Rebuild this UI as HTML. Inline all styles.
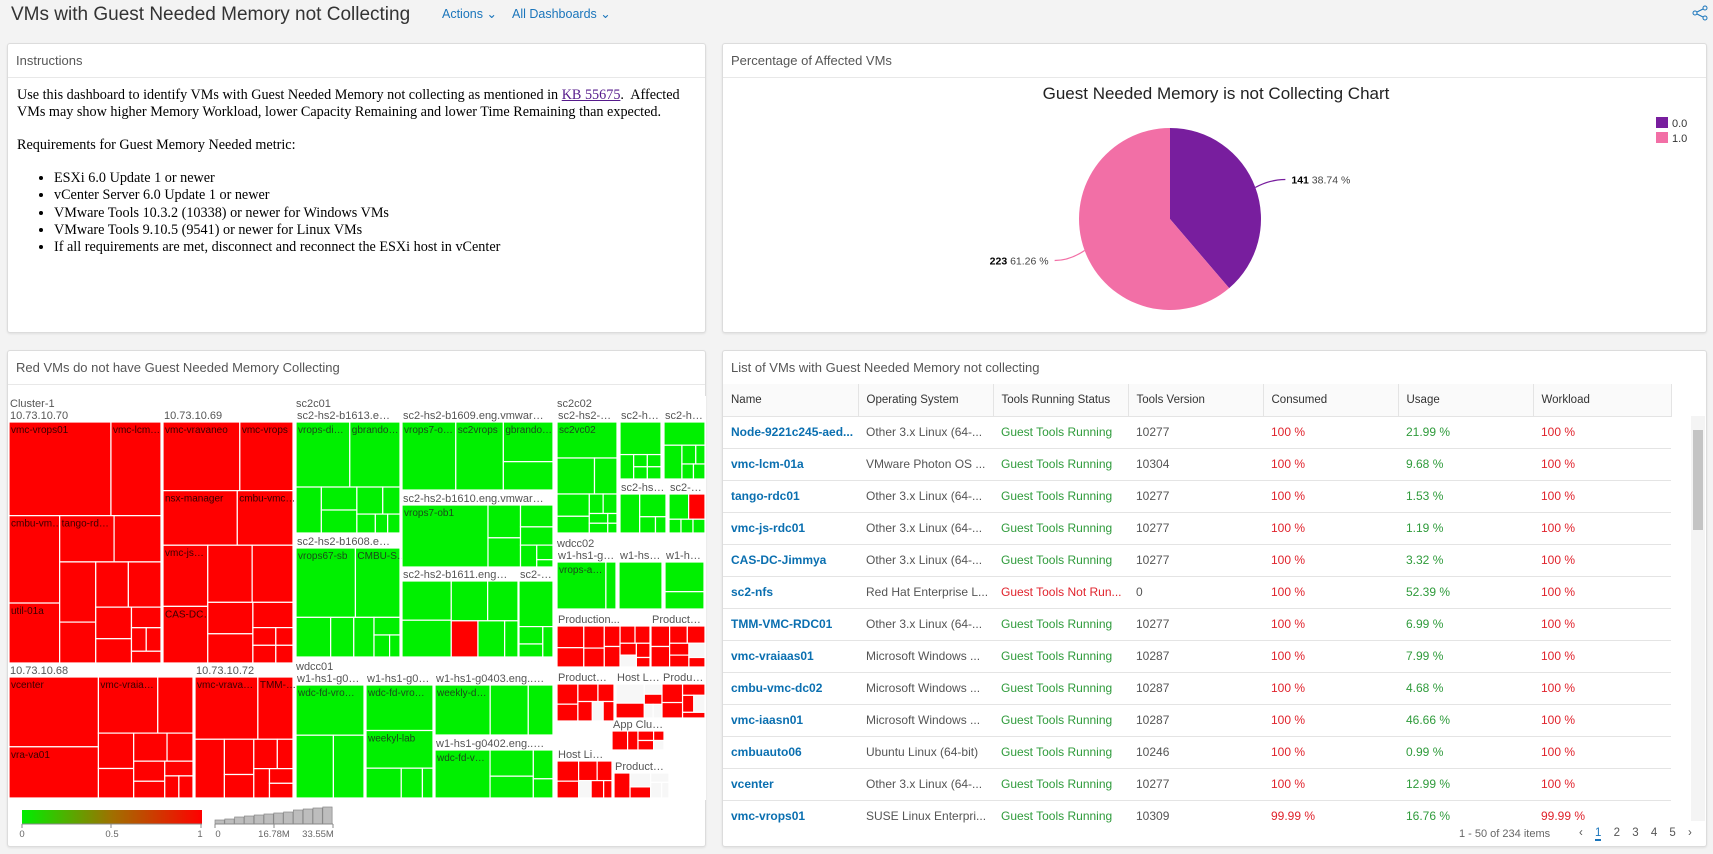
<!DOCTYPE html>
<html><head><meta charset="utf-8">
<style>
*{box-sizing:border-box;margin:0;padding:0}
body{width:1713px;height:854px;overflow:hidden;background:#f3f3f3;font-family:"Liberation Sans",sans-serif;position:relative;color:#333}
.abs{position:absolute}
.panel{position:absolute;background:#fff;border:1px solid #dcdcdc;border-radius:3px;box-shadow:0 1px 2px rgba(0,0,0,.08)}
.ph{position:absolute;left:0;right:0;top:0;height:34px;border-bottom:1px solid #e8e8e8;font-size:13px;color:#565656;padding:9px 0 0 8px}
.body-text{font-family:"Liberation Serif",serif;font-size:14.2px;color:#000;position:absolute;left:9px;top:43px;line-height:16.8px;white-space:nowrap}
.body-text ul{margin:16px 0 0 37px}
.body-text li{line-height:17.3px}
table{border-collapse:collapse;font-size:12px;table-layout:fixed}
td,th{height:32px;padding:0 0 0 8px;white-space:nowrap;overflow:hidden;text-align:left;border-bottom:1px solid #e4e4e4}
th{font-weight:normal;font-size:11.5px;color:#333;border-right:1px solid #e4e4e4;height:32px}
.nm{color:#0a6fb0;font-weight:bold}
.rd{color:#e0232c}.gr{color:#2f9b3b}.os{color:#555}
</style></head><body>
<div class="abs" style="left:11px;top:4px;font-size:19px;color:#333">VMs with Guest Needed Memory not Collecting</div>
<div class="abs" style="left:442px;top:6px;font-size:12.5px;color:#1a75bb">Actions ⌄</div>
<div class="abs" style="left:512px;top:6px;font-size:12.5px;color:#1a75bb">All Dashboards ⌄</div>
<svg class="abs" style="left:1692px;top:5px" width="16" height="16"><circle cx="3" cy="8" r="2" fill="none" stroke="#1a75bb"/><circle cx="13" cy="3" r="2" fill="none" stroke="#1a75bb"/><circle cx="13" cy="13" r="2" fill="none" stroke="#1a75bb"/><path d="M5 7L11 4M5 9L11 12" stroke="#1a75bb"/></svg>

<div class="panel" style="left:7px;top:43px;width:699px;height:290px">
 <div class="ph">Instructions</div>
 <div class="body-text">
  Use this dashboard to identify VMs with Guest Needed Memory not collecting as mentioned in <a style="color:#551a8b;text-decoration:underline">KB 55675</a>.&nbsp; Affected<br>VMs may show higher Memory Workload, lower Capacity Remaining and lower Time Remaining than expected.<br><br>Requirements for Guest Memory Needed metric:
  <ul>
   <li>ESXi 6.0 Update 1 or newer</li>
   <li>vCenter Server 6.0 Update 1 or newer</li>
   <li>VMware Tools 10.3.2 (10338) or newer for Windows VMs</li>
   <li>VMware Tools 9.10.5 (9541) or newer for Linux VMs</li>
   <li>If all requirements are met, disconnect and reconnect the ESXi host in vCenter</li>
  </ul>
 </div>
</div>

<div class="panel" style="left:722px;top:43px;width:985px;height:290px">
 <div class="ph">Percentage of Affected VMs</div>
</div>
<svg class="abs" id="pie" style="left:0;top:0" width="1713" height="340"></svg>

<div class="panel" style="left:7px;top:350px;width:699px;height:497px">
 <div class="ph">Red VMs do not have Guest Needed Memory Collecting</div>
 <div class="abs" style="left:0;right:0;top:45px;border-bottom:1px solid #eee"></div>
</div>
<svg class="abs" id="tm" style="left:0;top:0" width="710" height="854"></svg>

<div class="panel" style="left:722px;top:350px;width:985px;height:497px;overflow:hidden">
 <div class="ph" style="border:none">List of VMs with Guest Needed Memory not collecting</div>
 <div class="abs" style="left:0;top:33px;width:983px;height:443px;overflow:hidden">
 <table id="tbl" style="width:948px">
  <colgroup><col style="width:135px"><col style="width:135px"><col style="width:135px"><col style="width:135px"><col style="width:135px"><col style="width:135px"><col style="width:138px"></colgroup>
  <thead><tr style="background:#fafafa"><th>Name</th><th>Operating System</th><th>Tools Running Status</th><th>Tools Version</th><th>Consumed</th><th>Usage</th><th>Workload</th></tr></thead>
  <tbody id="tb"></tbody>
 </table>
 </div>
 <div class="abs" style="left:968px;top:65px;width:14px;height:405px;background:#f4f4f4"><div style="margin:14px 2px;height:100px;background:#c4c4c4"></div></div>
 <div class="abs" style="left:736px;top:477px;font-size:11px;color:#666">1 - 50 of 234 items</div>
 <div class="abs" style="left:856px;top:476px;font-size:11.5px;color:#555;word-spacing:9px">‹ <span style="color:#1a75bb;border-bottom:2px solid #1a75bb">1</span> 2 3 4 5 ›</div>
</div>

<script>
// ---- Pie data ----
const pieLabels=['0.0','1.0'];
const pieValues=[141,223];
const pieColors=['#781e9e','#f26fa6'];
const NS='http://www.w3.org/2000/svg';
function mk(p,tag,attrs){const e=document.createElementNS(NS,tag);for(const k in attrs)e.setAttribute(k,attrs[k]);p.appendChild(e);return e;}
(function(){
 const svg=document.getElementById('pie');
 const t=mk(svg,'text',{x:1216,y:99,'text-anchor':'middle','font-size':17,fill:'#222','font-family':'Liberation Sans'});
 t.textContent='Guest Needed Memory is not Collecting Chart';
 
 
 const cx=1170,cy=219,r=91;const tot=pieValues.reduce((a,b)=>a+b,0);
 let a0=-Math.PI/2;
 pieValues.forEach((v,i)=>{
  const a1=a0+v/tot*2*Math.PI;
  const p=mk(svg,'path',{d:`M${cx},${cy}L${cx+r*Math.cos(a0)},${cy+r*Math.sin(a0)}A${r},${r} 0 ${a1-a0>Math.PI?1:0} 1 ${cx+r*Math.cos(a1)},${cy+r*Math.sin(a1)}Z`,fill:pieColors[i]});
  
  
  const am=(a0+a1)/2;const ex=cx+r*Math.cos(am),ey=cy+r*Math.sin(am);
  const right=Math.cos(am)>0;const lx=ex+(right?30:-30),ly=ey+(right?-8:10);
  mk(svg,'path',{d:`M${ex},${ey}Q${(ex+lx)/2},${ly} ${lx},${ly}`,stroke:pieColors[i],fill:'none','stroke-width':1.2});
  const lt=mk(svg,'text',{x:right?lx+6:lx-6,y:ly+4,'text-anchor':right?'start':'end','font-size':10.5,fill:'#444','font-family':'Liberation Sans'});
  lt.innerHTML=`<tspan font-weight="bold" fill="#000">${v}</tspan> ${(v/tot*100).toFixed(2)} %`;
  
  
  a0=a1;
  const lg=mk(svg,'rect',{x:1656,y:117+i*15,width:12,height:11,fill:pieColors[i]});
  
  
  const ltx=mk(svg,'text',{x:1672,y:127+i*15,'font-size':11,fill:'#333','font-family':'Liberation Sans'});
  ltx.textContent=pieLabels[i];
  
  
 });
})();

// ---- Treemap data ----
const groupLabels=[['Cluster-1',10,397],['sc2c01',296,397],['sc2c02',557,397],['wdcc01',296,660],['wdcc02',557,537]];
const hostNames=['10.73.10.70','10.73.10.69','10.73.10.68','10.73.10.72','sc2-hs2-b1613.eng...','sc2-hs2-b1608.eng...','sc2-hs2-b1609.eng.vmware...','sc2-hs2-b1610.eng.vmware...','sc2-hs2-b1611.eng....','sc2-...','w1-hs1-g04...','w1-hs1-g04...','w1-hs1-g0403.eng....','w1-hs1-g0402.eng....','sc2-hs2-b...','sc2-hs...','sc2-hs...','sc2-hs...','sc2-...','w1-hs1-g...','w1-hs1...','w1-hs1...','Production...','Production_...','Producti...','Host Li...','Product...','App Clu...','Host Lic...','Product...'];
const hostBoxes=[[9,409,152,254],[163,409,130,254],[9,664,184,134],[195,664,98,134],[296,409,104,124],[296,535,104,122],[402,409,151,81],[402,492,151,75],[402,568,116,89],[519,568,34,89],[296,672,68,126],[366,672,67,126],[435,672,118,63],[435,737,118,61],[557,409,60,124],[620,409,41,70],[664,409,41,70],[620,481,46,52],[669,481,36,52],[557,549,59,60],[619,549,43,60],[665,549,39,60],[557,613,93,54],[651,613,54,54],[557,671,57,50],[616,671,46,47],[662,671,43,47],[612,718,52,32],[557,748,55,50],[614,760,55,38]];
const hostValues=[
 [11000,5400,5100,3500,2900,2500,2500,1700,1700,1700,1300,1000,700,400,400,400],
 [5200,3600,4000,3000,2700,2500,2500,2300,1400,1300,1000,400,400,300,300],
 [6000,4400,3200,1900,1200,1000,900,700,600,500,400,300,300],
 [3400,1900,1500,900,600,600,400,400,300,300],
 [3000,2800,1000,700,700,600,400,300,200,200],
 [3600,2700,1200,800,700,400,300,200],
 [2600,2300,1400,1000],
 [4500,900,800,600,500,300,200,100],
 [1600,1500,1200,1000,800,800,400],
 [1500,400,300,300],
 [3200,2200,1800],
 [2900,2400,1000,600,300],
 [2900,2000,1300],
 [2800,1200,1000,600,400],
 [2400,1500,900,800,600,300,300,200,200,100,100],
 [1600,400,200,200,200,200],
 [1100,700,300,200,200,200],
 [900,700,300,200],
 [600,500,200,200,200],
 [2900,600],[2200],[1200,700],
 [900,800,700,600,500,500,400,400,300,300,300,200],
 [500,500,400,400,300,300,300,200],
 [600,500,500,400,400,300,300],
 [900,700,300,300,200,200],
 [600,500,400,300,300,200],
 [600,400,300,300,200,200],
 [600,500,500,400,300,300,200],
 [700,500,400,300,300,200]];
// status per host: 1=red(not collecting), 0=green, 2=no data; per-leaf overrides below
const hostStatus=[1,1,1,1,0,0,0,0,0,0,0,0,0,0,0,0,0,0,0,0,0,0,1,1,1,2,1,1,1,2];
const leafOverrides={'8-4':1,'18-1':1,'25-1':1,'25-3':1,'29-0':1,'29-2':1,'23-6':2,'22-9':2,'24-5':2,'26-4':2,'27-5':2,'28-4':2};
const leafNames={0:['vmc-vrops01','vmc-lcm-01a','cmbu-vmc-dc02','util-01a','tango-rdc01'],1:['vmc-vravaneo','vmc-vrops','nsx-manager','cmbu-vmc-dc01','vmc-js-rdc01','CAS-DC-Jimmya'],2:['vcenter','vra-va01','vmc-vraiaas01'],3:['vmc-vrava01','TMM-VMC-RDC01'],4:['vrops-diasvc','gbrandon-lab'],5:['vrops67-sb','CMBU-SC-vc'],6:['vrops7-ob2','sc2vrops','gbrandon-vc'],7:['vrops7-ob1'],10:['wdc-fd-vrops'],11:['wdc-fd-vrops2','weekyl-lab'],12:['weekly-dev'],13:['wdc-fd-vrops3'],14:['sc2vc02'],19:['vrops-api']};
const statusColor=['#00f000','#ff0000','#f7f7f7'];
function worst(row,s){let sum=0,mx=0,mn=1e18;row.forEach(r=>{sum+=r.a;mx=Math.max(mx,r.a);mn=Math.min(mn,r.a);});return Math.max(s*s*mx/(sum*sum),sum*sum/(s*s*mn));}
function squarify(items,x,y,w,h){const out=[];let rest=items.slice();while(rest.length){const s=Math.min(w,h);let row=[rest[0]],i=1;while(i<rest.length&&worst(row.concat(rest[i]),s)<=worst(row,s)){row.push(rest[i]);i++;}const sum=row.reduce((a,b)=>a+b.a,0);if(w>=h){const rw=sum/h;let cy=y;row.forEach(r=>{const rh=r.a/rw;out.push(Object.assign({},r,{x:x,y:cy,w:rw,h:rh}));cy+=rh;});x+=rw;w-=rw;}else{const rh=sum/w;let cx=x;row.forEach(r=>{const rw=r.a/rh;out.push(Object.assign({},r,{x:cx,y:y,w:rw,h:rh}));cx+=rw;});y+=rh;h-=rh;}rest=rest.slice(i);}return out;}
function fit(s,w,cw){const n=Math.floor((w-4)/cw);if(n<2)return '';return s.length<=n?s:s.slice(0,Math.max(1,n-1))+'…';}
(function(){
 const svg=document.getElementById('tm');
 mk(svg,'rect',{x:8,y:396,width:698,height:404,fill:'#fff'});
 groupLabels.forEach(g=>{const t=mk(svg,'text',{x:g[1],y:g[2]+10,'font-size':11,fill:'#555','font-family':'Liberation Sans'});t.textContent=g[0];
  
  });
 hostBoxes.forEach((b,hi)=>{
  const [x,y,w,h]=b;
  const lbl=mk(svg,'text',{x:x+1,y:y+10,'font-size':11,fill:'#555','font-family':'Liberation Sans'});
  lbl.textContent=fit(hostNames[hi],w,6);
  
  
  const vals=hostValues[hi];const tot=vals.reduce((a,c)=>a+c,0);
  const ay=y+13,ah=h-13;
  const items=vals.map((v,i)=>({a:v/tot*w*ah,i:i}));
  squarify(items,x,ay,w,ah).forEach(r=>{
   let st=hostStatus[hi];const k=hi+'-'+r.i;if(k in leafOverrides)st=leafOverrides[k];
   const rc=mk(svg,'rect',{x:r.x,y:r.y,width:Math.max(0,r.w),height:Math.max(0,r.h),fill:statusColor[st],stroke:'#fff','stroke-width':1.2});
   
   
   const nm=leafNames[hi]&&leafNames[hi][r.i];
   if(nm&&r.h>14){const tx=fit(nm,r.w,5.4);if(tx){const t=mk(svg,'text',{x:r.x+2,y:r.y+11,'font-size':10,fill:'#3a0000','font-family':'Liberation Sans'});if(st===0)t.setAttribute('fill','#1a4a1a');t.textContent=tx;
    
    }}
  });
 });
 const defs=mk(svg,'defs',{});const lg=mk(defs,'linearGradient',{id:'gg'});
 mk(lg,'stop',{offset:'0','stop-color':'#00ee00'});mk(lg,'stop',{offset:'0.5','stop-color':'#a07000'});mk(lg,'stop',{offset:'1','stop-color':'#ff0000'});
 const gr=mk(svg,'rect',{x:22,y:810,width:180,height:14,fill:'url(#gg)'});
 
 
 mk(svg,'path',{d:'M22 824v4M111 824v4M201 824v4M22 824H202',stroke:'#888'});
 [['0',22],['0.5',112],['1',200]].forEach(l=>{const t=mk(svg,'text',{x:l[1],y:837,'font-size':9.5,fill:'#666','text-anchor':'middle','font-family':'Liberation Sans'});t.textContent=l[0];
  
  });
 const sizes=[4,5,7,8,9,10,11,12,14,15,16,17];
 sizes.forEach((s,i)=>{const r=mk(svg,'rect',{x:215+i*9.8,y:824-s,width:9.3,height:s,fill:'#bdbdbd',stroke:'#888','stroke-width':0.7});
  
  });
 mk(svg,'path',{d:'M215 824H333M215 824v4M274 824v4M333 824v4',stroke:'#888'});
 [['0',218],['16.78M',274],['33.55M',318]].forEach(l=>{const t=mk(svg,'text',{x:l[1],y:837,'font-size':9.5,fill:'#666','text-anchor':'middle','font-family':'Liberation Sans'});t.textContent=l[0];
  
  });
})();

// ---- Table data ----
const vmNames=['Node-9221c245-aed...','vmc-lcm-01a','tango-rdc01','vmc-js-rdc01','CAS-DC-Jimmya','sc2-nfs','TMM-VMC-RDC01','vmc-vraiaas01','cmbu-vmc-dc02','vmc-iaasn01','cmbuauto06','vcenter','vmc-vrops01'];
const vmOS=['Other 3.x Linux (64-...','VMware Photon OS ...','Other 3.x Linux (64-...','Other 3.x Linux (64-...','Other 3.x Linux (64-...','Red Hat Enterprise L...','Other 3.x Linux (64-...','Microsoft Windows ...','Microsoft Windows ...','Microsoft Windows ...','Ubuntu Linux (64-bit)','Other 3.x Linux (64-...','SUSE Linux Enterpri...'];
const vmTools=['Guest Tools Running','Guest Tools Running','Guest Tools Running','Guest Tools Running','Guest Tools Running','Guest Tools Not Run...','Guest Tools Running','Guest Tools Running','Guest Tools Running','Guest Tools Running','Guest Tools Running','Guest Tools Running','Guest Tools Running'];
const vmVersion=['10277','10304','10277','10277','10277','0','10277','10287','10287','10287','10246','10277','10309'];
const vmConsumed=['100 %','100 %','100 %','100 %','100 %','100 %','100 %','100 %','100 %','100 %','100 %','100 %','99.99 %'];
const vmUsage=['21.99 %','9.68 %','1.53 %','1.19 %','3.32 %','52.39 %','6.99 %','7.99 %','4.68 %','46.66 %','0.99 %','12.99 %','16.76 %'];
const vmWorkload=['100 %','100 %','100 %','100 %','100 %','100 %','100 %','100 %','100 %','100 %','100 %','100 %','99.99 %'];
(function(){
 const tb=document.getElementById('tb');
 vmNames.forEach((n,i)=>{
  const tr=document.createElement('tr');
  
  
  const tc=vmTools[i].indexOf('Not')>=0?'rd':'gr';
  tr.innerHTML=`<td class="nm">${n}</td><td class="os">${vmOS[i]}</td><td class="${tc}">${vmTools[i]}</td><td class="os">${vmVersion[i]}</td><td class="rd">${vmConsumed[i]}</td><td class="gr">${vmUsage[i]}</td><td class="rd">${vmWorkload[i]}</td>`;
  tb.appendChild(tr);
 });
})();
</script>
</body></html>
